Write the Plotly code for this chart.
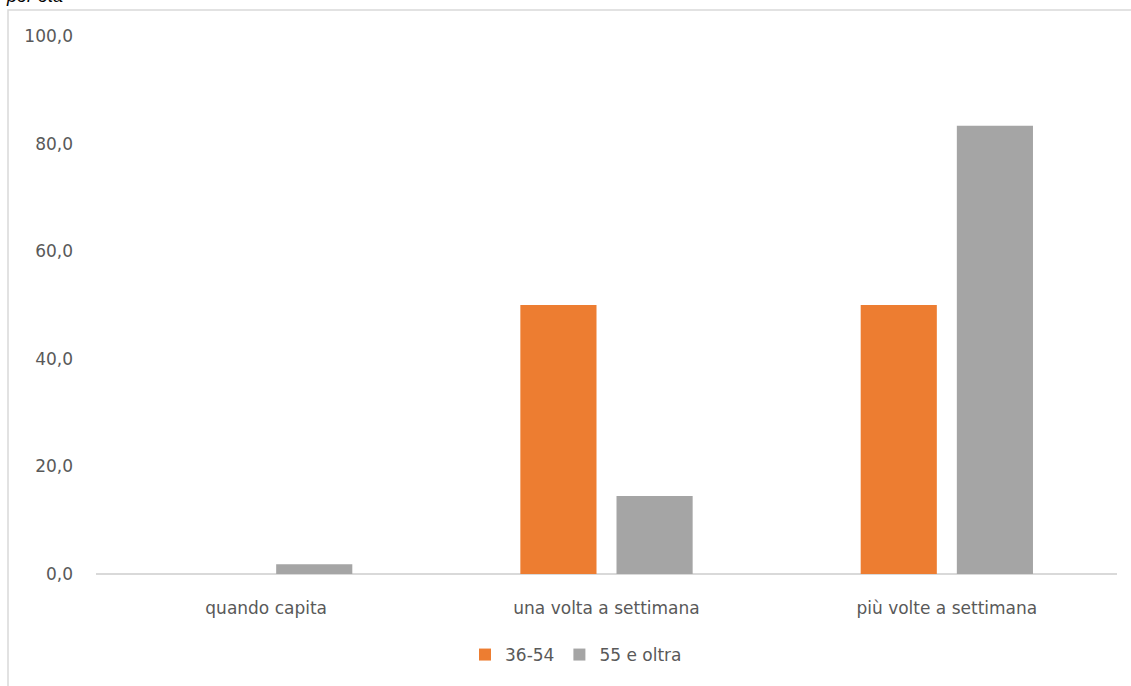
import plotly.graph_objects as go

# Frequenza per fascia d'età (valori percentuali)
categories = ["quando capita", "una volta a settimana", "più volte a settimana"]
series_names = ["36-54", "55 e oltra"]
values_36_54 = [0.0, 50.0, 50.0]
values_55_oltre = [1.8, 14.5, 83.3]
y_ticks = [0, 20, 40, 60, 80, 100]

W, H = 1131, 686
L, R, T, B = 96, 14, 36, 112
PW, PH = W - L - R, H - T - B


def px_x(px):
    return (px - L) / PW


def px_y(py):
    return (H - B - py) / PH


fig = go.Figure()
fig.add_trace(go.Bar(name=series_names[0], x=categories, y=values_36_54,
                     marker=dict(color="#ED7D31", line=dict(width=0))))
fig.add_trace(go.Bar(name=series_names[1], x=categories, y=values_55_oltre,
                     marker=dict(color="#A5A5A5", line=dict(width=0))))

font_family = "DejaVu Sans, Open Sans, sans-serif"

fig.update_layout(
    width=W, height=H,
    margin=dict(l=L, r=R, t=T, b=B, pad=0),
    paper_bgcolor="white", plot_bgcolor="white",
    barmode="group", bargap=0.435, bargroupgap=0.208,
    separators=",.",
    font=dict(family=font_family, size=17, color="#595959"),
    showlegend=True,
    legend=dict(orientation="h", x=px_x(576), xanchor="center",
                y=px_y(655), yanchor="middle",
                font=dict(size=17, color="#595959"),
                itemwidth=30, tracegroupgap=0, bgcolor="rgba(0,0,0,0)"),
    xaxis=dict(showgrid=False, zeroline=False, showline=False,
               ticks="", ticklabelstandoff=22,
               tickfont=dict(size=17, color="#595959")),
    yaxis=dict(range=[0, 100], tickvals=y_ticks, tickformat=".1f",
               showgrid=False, zeroline=True, zerolinecolor="#D9D9D9",
               zerolinewidth=1.5, showline=False, ticks="",
               ticklabelstandoff=22,
               tickfont=dict(size=17, color="#595959")),
    shapes=[
        # bordo dell'area del grafico
        dict(type="rect", xref="paper", yref="paper",
             x0=px_x(8), x1=px_x(W + 20), y0=px_y(H + 20), y1=px_y(10),
             line=dict(color="#D9D9D9", width=1.5), fillcolor="rgba(0,0,0,0)",
             layer="below"),
    ],
    annotations=[
        dict(text="<i>per età</i>", xref="paper", yref="paper",
             x=px_x(4), y=px_y(8), xanchor="left", yanchor="bottom",
             showarrow=False, font=dict(size=18, color="black",
                                        family="Liberation Sans, Arial, sans-serif")),
    ],
)

fig.write_html("out.html")
